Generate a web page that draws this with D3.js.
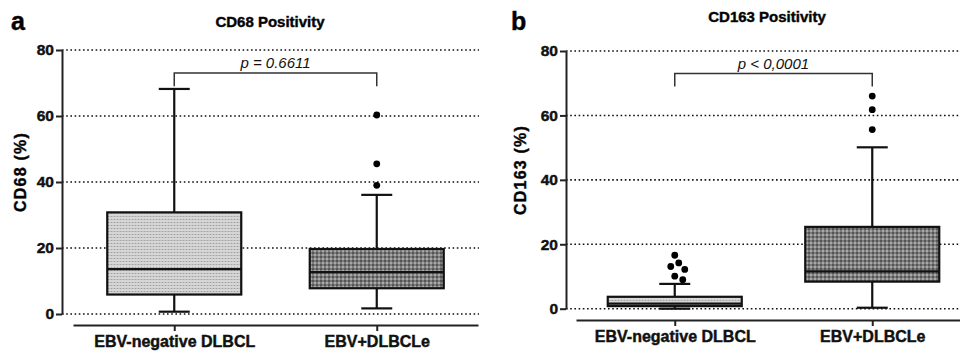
<!DOCTYPE html>
<html>
<head>
<meta charset="utf-8">
<script src="https://cdn.jsdelivr.net/npm/d3@7"></script>
<style>
  body { margin: 0; background: #fff; }
  svg { display: block; font-family: "Liberation Sans", Arial, sans-serif; }
  .heavy { stroke: #111; stroke-width: 0.45px; }
</style>
</head>
<body>
<script>
// groups shared by both panels
const groups = ["EBV-negative DLBCL", "EBV+DLBCLe"];
const yTicks = [0, 20, 40, 60, 80];

// CD68 (%) box stats: [min whisker, Q1, median, Q3, max whisker]
const cd68Stats = [
  [0.7, 5.9, 13.6, 30.8, 68.2],
  [1.7, 7.8, 12.7, 19.7, 36.1]
];
const cd68Outliers = [[], [60.3, 45.5, 39.0]];
const cd68P = "p = 0.6611";

// CD163 (%)
const cd163Stats = [
  [0.0, 0.8, 1.6, 3.7, 7.7],
  [0.3, 8.4, 11.6, 25.4, 50.1]
];
const cd163Outliers = [[16.6, 14.2, 13.1, 12.2, 10.1, 9.0], [66.0, 61.8, 55.6]];
const cd163P = "p < 0,0001";

const width = 960, height = 353;
const svg = d3.select("body").append("svg")
  .attr("width", width).attr("height", height)
  .attr("viewBox", [0, 0, width, height]);

// fill textures for the two groups
const defs = svg.append("defs");
const light = defs.append("pattern").attr("id", "light")
  .attr("width", 3).attr("height", 3).attr("patternUnits", "userSpaceOnUse");
light.append("rect").attr("width", 3).attr("height", 3).attr("fill", "#d6d6d6");
light.append("rect").attr("width", 3).attr("height", 1).attr("fill", "#c2c2c2");
light.append("rect").attr("width", 1).attr("height", 1).attr("fill", "#a0a0a0");
const dark = defs.append("pattern").attr("id", "dark")
  .attr("width", 4).attr("height", 4).attr("patternUnits", "userSpaceOnUse");
dark.append("rect").attr("width", 4).attr("height", 4).attr("fill", "#7c7c7c");
dark.append("rect").attr("width", 2).attr("height", 2).attr("fill", "#555");
dark.append("rect").attr("x", 2).attr("y", 2).attr("width", 2).attr("height", 2).attr("fill", "#a8a8a8");
const fills = ["url(#light)", "url(#dark)"];

function panel(o) {
  const g = svg.append("g");
  const y = d3.scaleLinear().domain([0, 80]).range([o.y0, o.y80]);
  const x = d3.scalePoint().domain(groups).range([o.xa0, o.xa1]).padding(0.5);
  const halfBox = 67, halfCap = 15.5;

  // letter + title
  g.append("text").attr("class", "heavy").attr("x", o.letterX).attr("y", 30)
    .attr("font-size", 25).attr("font-weight", "bold").text(o.letter);
  g.append("text").attr("class", "heavy").attr("x", o.titleX).attr("y", o.titleY)
    .attr("text-anchor", "middle").attr("font-size", 15).attr("font-weight", "bold")
    .text(o.title);

  // dotted grid
  g.append("g").selectAll("line").data(yTicks).join("line")
    .attr("x1", o.axisX).attr("x2", o.gridEnd)
    .attr("y1", d => y(d)).attr("y2", d => y(d))
    .attr("stroke", "#111").attr("stroke-width", 1.6)
    .attr("stroke-dasharray", "1.6 2.6");

  // y axis
  const ya = g.append("g").attr("transform", `translate(${o.axisX},0)`)
    .call(d3.axisLeft(y).tickValues(yTicks).tickSize(6).tickSizeOuter(0).tickPadding(2));
  ya.selectAll("path, line").attr("stroke", "#222").attr("stroke-width", 2);
  ya.selectAll("text").attr("class", "heavy").attr("font-size", 15.5).attr("font-weight", "bold")
    .attr("fill", "#111").attr("font-family", "Liberation Sans, Arial, sans-serif");

  g.append("text").attr("class", "heavy")
    .attr("transform", `translate(${o.labelX},${o.labelY}) rotate(-90)`)
    .attr("text-anchor", "middle").attr("font-size", 16).attr("font-weight", "bold")
    .attr("letter-spacing", 1.2)
    .text(o.ylabel);

  // x axis
  const xa = g.append("g").attr("transform", `translate(0,${o.xAxisY})`)
    .call(d3.axisBottom(x).tickSize(6).tickSizeOuter(0).tickPadding(5));
  xa.selectAll("path, line").attr("stroke", "#222").attr("stroke-width", 2);
  xa.selectAll("text").attr("class", "heavy").attr("font-size", 16).attr("font-weight", "bold")
    .attr("fill", "#111").attr("font-family", "Liberation Sans, Arial, sans-serif");

  // boxes
  o.stats.forEach((s, i) => {
    const cx = x(groups[i]);
    const [lo, q1, med, q3, hi] = s;
    const bg = g.append("g").attr("stroke", "#111").attr("stroke-width", 2.2);
    bg.append("line").attr("x1", cx).attr("x2", cx).attr("y1", y(hi)).attr("y2", y(q3));
    bg.append("line").attr("x1", cx).attr("x2", cx).attr("y1", y(q1)).attr("y2", y(lo));
    bg.append("line").attr("x1", cx - halfCap).attr("x2", cx + halfCap).attr("y1", y(hi)).attr("y2", y(hi));
    bg.append("line").attr("x1", cx - halfCap).attr("x2", cx + halfCap).attr("y1", y(lo)).attr("y2", y(lo));
    bg.append("rect").attr("x", cx - halfBox).attr("width", halfBox * 2)
      .attr("y", y(q3)).attr("height", y(q1) - y(q3)).attr("fill", fills[i]);
    bg.append("line").attr("x1", cx - halfBox).attr("x2", cx + halfBox).attr("y1", y(med)).attr("y2", y(med));

    // outliers, dodged sideways when they would touch
    const placed = [];
    const dist = 8.5;
    o.outliers[i].slice().sort((a, b) => b - a).forEach(v => {
      const py = y(v);
      let dx = 0;
      const ok = t => placed.every(p => Math.hypot(p[0] - t, p[1] - py) >= dist);
      if (!ok(0)) {
        for (let k = 0.5; k < 30; k += 0.5) {
          if (ok(k)) { dx = k; break; }
          if (ok(-k)) { dx = -k; break; }
        }
      }
      placed.push([dx, py]);
      g.append("circle").attr("cx", cx + dx).attr("cy", py).attr("r", 3.4).attr("fill", "#000");
    });
  });

  // significance bracket
  const bx0 = x(groups[0]), bx1 = x(groups[1]);
  const by = y(o.bracketTop), byEnd = y(o.bracketFoot);
  g.append("path")
    .attr("d", `M${bx0},${byEnd}V${by}H${bx1}V${byEnd}`)
    .attr("fill", "none").attr("stroke", "#333").attr("stroke-width", 1.5);
  g.append("text").attr("x", (bx0 + bx1) / 2).attr("y", by - 5)
    .attr("text-anchor", "middle").attr("font-size", 15).attr("font-style", "italic")
    .attr("fill", "#111").text(o.p);
}

panel({
  letter: "a", letterX: 11, title: "CD68 Positivity", titleX: 270, titleY: 27,
  ylabel: "CD68 (%)", labelX: 26, labelY: 172,
  y0: 314, y80: 50, axisX: 62, gridEnd: 479,
  xa0: 73, xa1: 478, xAxisY: 325,
  stats: cd68Stats, outliers: cd68Outliers, p: cd68P,
  bracketTop: 73, bracketFoot: 69
});

panel({
  letter: "b", letterX: 511, title: "CD163 Positivity", titleX: 767, titleY: 22,
  ylabel: "CD163 (%)", labelX: 526, labelY: 170,
  y0: 308.7, y80: 51, axisX: 566, gridEnd: 960,
  xa0: 576, xa1: 971, xAxisY: 320,
  stats: cd163Stats, outliers: cd163Outliers, p: cd163P,
  bracketTop: 73, bracketFoot: 69
});
</script>
</body>
</html>
